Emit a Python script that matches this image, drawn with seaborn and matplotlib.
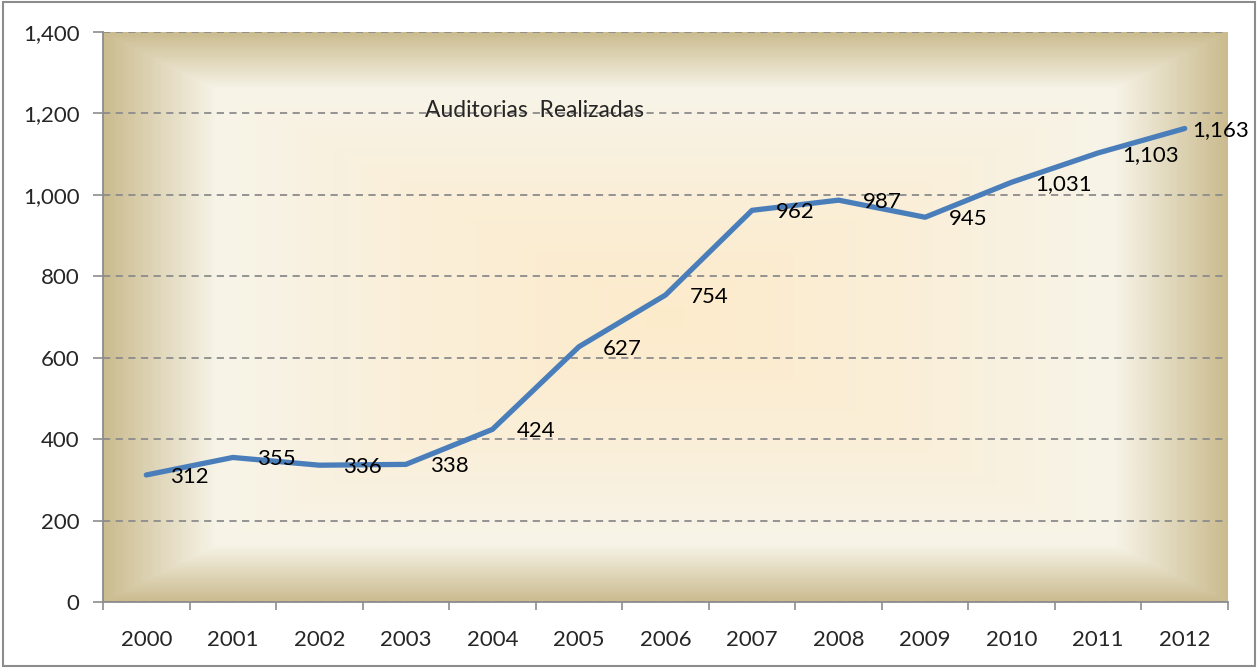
import numpy as np
import pandas as pd
import matplotlib
matplotlib.use("Agg")
import matplotlib.pyplot as plt
import seaborn as sns
from matplotlib.colors import LinearSegmentedColormap
from matplotlib.ticker import FixedLocator, FuncFormatter
from matplotlib.patches import Rectangle

years = ["2000", "2001", "2002", "2003", "2004", "2005", "2006",
         "2007", "2008", "2009", "2010", "2011", "2012"]
auditorias = [312, 355, 336, 338, 424, 627, 754, 962, 987, 945, 1031, 1103, 1163]
title_text = "Auditorias  Realizadas"

sns.set_style("white")
plt.rcParams['font.family'] = ['Lato', 'DejaVu Sans']

df = pd.DataFrame({"year": years, "value": auditorias})

fig = plt.figure(figsize=(12.58, 6.68), dpi=100)
ax = fig.add_axes([103 / 1258, 1 - 602 / 668, 1125 / 1258, 570 / 668])

# rectangular gradient background (Excel style "from center")
n = 400
u = np.abs(np.linspace(-1, 1, n))
U, V = np.meshgrid(u, u)
D = np.maximum(U, V)
bg_cmap = LinearSegmentedColormap.from_list(
    "bg", [(0.0, "#FDEBCB"), (0.45, "#FAEFD9"), (0.8, "#F7F4E8"), (1.0, "#CBBC90")])
ax.imshow(D, cmap=bg_cmap, extent=[0, 1, 0, 1], transform=ax.transAxes,
          aspect="auto", zorder=0, interpolation="bilinear")

sns.lineplot(data=df, x="year", y="value", ax=ax, color="#4A7EBB",
             linewidth=3.8, zorder=3, sort=False)

for i, v in enumerate(auditorias):
    dx = 24 if i < len(auditorias) - 1 else 7
    ax.annotate(f"{v:,}", (i, v), xytext=(dx, -2), textcoords="offset pixels",
                ha="left", va="center", fontsize=16, color="black",
                zorder=4, annotation_clip=False)

ax.text(0.286, 0.862, title_text, transform=ax.transAxes, fontsize=16.5,
        ha="left", va="center", zorder=4)

ax.set_xlim(-0.5, len(years) - 0.5)
ax.set_ylim(0, 1400)
ax.set_yticks(range(0, 1401, 200))
ax.yaxis.set_major_formatter(FuncFormatter(lambda x, p: f"{int(x):,}"))
ax.yaxis.grid(True, color="#8C8C8C", linestyle=(0, (4, 3)), linewidth=1.3, zorder=1)
ax.set_axisbelow(False)

ax.set_xticks(range(len(years)))
ax.set_xticklabels(years)
ax.xaxis.set_minor_locator(FixedLocator(np.arange(-0.5, len(years), 1.0)))
ax.tick_params(axis="x", which="major", length=0, pad=20, labelsize=16)
ax.tick_params(axis="x", which="minor", length=6, width=1.2, color="#8C8C8C",
               direction="out", bottom=True)
ax.tick_params(axis="y", which="major", length=7, width=1.2, color="#8C8C8C",
               direction="out", left=True, labelsize=16, pad=10)

ax.set_xlabel("")
ax.set_ylabel("")
for side in ["top", "right"]:
    ax.spines[side].set_visible(False)
for side in ["left", "bottom"]:
    ax.spines[side].set_color("#8C8C8C")
    ax.spines[side].set_linewidth(1.3)
    ax.spines[side].set_zorder(5)

fig.patches.append(Rectangle((0.002, 0.003), 0.996, 0.994, transform=fig.transFigure,
                             fill=False, edgecolor="#8C8C8C", linewidth=1.5))

fig.savefig("out.png", dpi=100)
